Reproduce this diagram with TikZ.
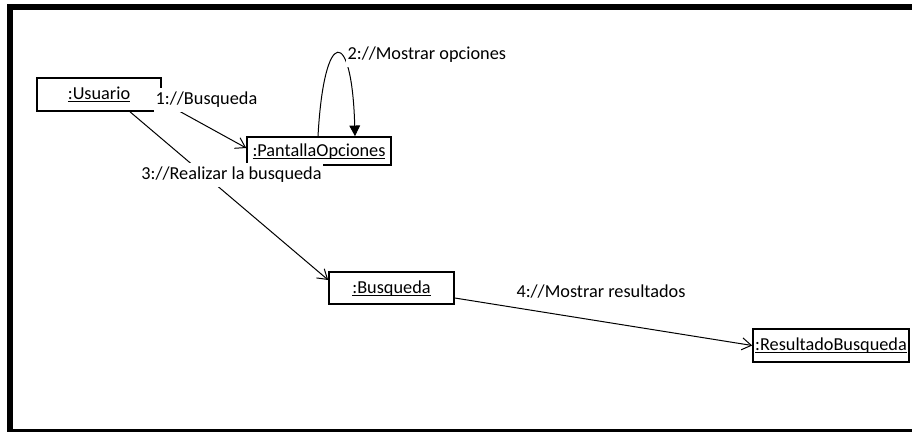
\documentclass[tikz,border=0pt]{standalone}
\usepackage{fontspec}
\setmainfont{Carlito}
\usetikzlibrary{arrows.meta,calc}
% underline drawn just below the baseline, ignoring descenders
\newcommand\objname[1]{\underline{\raisebox{0pt}[\height][0pt]{#1}}}
\begin{document}
\begin{tikzpicture}[x=0.75pt,y=-0.75pt,
  font=\fontsize{13.7}{16}\selectfont,
  objbox/.style={draw=black,line width=1.2pt,fill=white,inner sep=0pt},
  msg/.style={fill=white,inner xsep=1pt,inner ysep=3pt},
  link/.style={draw=black,line width=0.75pt},
  openarrow/.style={link,-{Straight Barb[length=7pt,width=9pt]}},
  fullarrow/.style={link,-{Triangle[length=8pt,width=8pt]}}]
  \useasboundingbox (0,0) rectangle (912,432);
  % frame
  \fill[black] (7,4) rectangle (912,10);
  \fill[black] (7,4) rectangle (13,432);
  \fill[black] (7,429) rectangle (912,432);

  % objects
  \node[objbox,minimum width=124*0.75pt,minimum height=33*0.75pt] (usuario) at (99,94.5) {\objname{:Usuario}};
  \node[objbox,minimum width=144*0.75pt,minimum height=28*0.75pt] (pantalla) at (319,151) {\objname{:PantallaOpciones}};
  \node[objbox,minimum width=125*0.75pt,minimum height=32*0.75pt] (busqueda) at (391.5,288) {\objname{:Busqueda}};
  \node[objbox,minimum width=156*0.75pt,minimum height=33*0.75pt] (resultado) at (831,345.5) {\objname{:ResultadoBusqueda}};

  % messages
  \draw[openarrow] ($(usuario.east)+(0,7)$) -- ($(pantalla.west)+(0,-3)$);
  \draw[fullarrow] ($(pantalla.north)+(-1,0)$) .. controls (324,26) and (352,26) .. ($(pantalla.north)+(36,0)$);
  \draw[openarrow] ($(usuario.south)+(31,0)$) -- ($(busqueda.west)+(0,-8)$);
  \draw[openarrow] ($(busqueda.east)+(0,10)$) -- (resultado.west);

  % message labels
  \node[msg] (m1) at (206.5,100) {1://Busqueda};
  \node[msg,anchor=west] (m2) at (346,55) {2://Mostrar opciones};
  \node[msg] (m3) at (231.5,175) {3://Realizar la busqueda};
  \node[msg] (m4) at (601,292) {4://Mostrar resultados};
\end{tikzpicture}
\end{document}
